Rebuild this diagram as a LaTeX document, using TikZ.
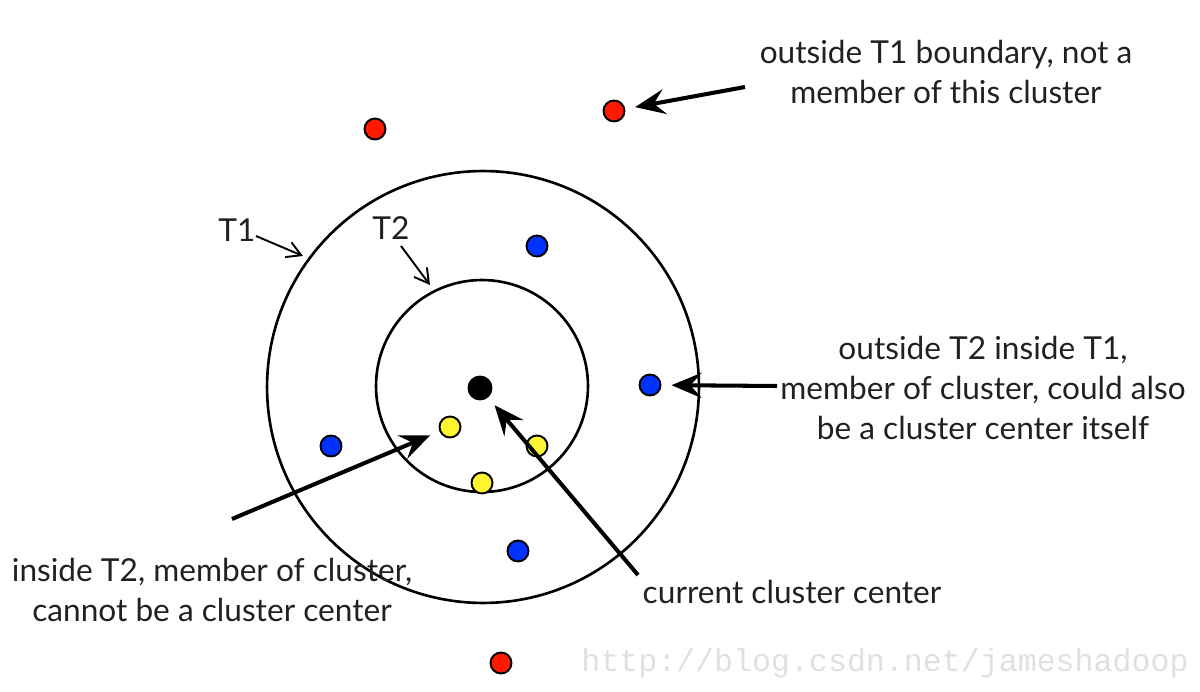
\documentclass[tikz,border=0pt]{standalone}
\usepackage{fontspec}
\setmainfont{Lato}
\newfontfamily\wmfont{Liberation Mono}
\usetikzlibrary{arrows.meta,positioning}

\begin{document}
\begin{tikzpicture}[x=0.02cm,y=-0.02cm,
  dot/.style={circle,draw=black,line width=1.1pt,minimum size=0.42cm,inner sep=0pt},
  ring/.style={circle,draw=black,line width=1.5pt,inner sep=0pt},
  bigarrow/.style={line width=2.3pt,-{Stealth[length=0.6cm,width=0.5cm,inset=0.22cm]}},
  thinarrow/.style={line width=1.1pt,-{Straight Barb[length=0.28cm,width=0.32cm]}},
  lbl/.style={font=\fontsize{18}{22.5}\selectfont,align=center,text=black!87,inner sep=0pt}]
\useasboundingbox (0,0) rectangle (1200,692);

\node[ring,minimum size=8.64cm] (T1) at (483,387) {};
\node[ring,minimum size=4.24cm] (T2) at (482,386) {};

\node[dot,fill=black,minimum size=0.46cm] (c) at (480,388) {};
\node[dot,fill=yellow!80!white] (y1) at (450,427) {};
\node[dot,fill=yellow!80!white] (y2) at (537,446) {};
\node[dot,fill=yellow!80!white] (y3) at (482,483) {};
\node[dot,fill=blue!80!cyan] (b1) at (537,246) {};
\node[dot,fill=blue!80!cyan] (b2) at (650,385) {};
\node[dot,fill=blue!80!cyan] (b3) at (331,446) {};
\node[dot,fill=blue!80!cyan] (b4) at (518,551) {};
\node[dot,fill=red!80!orange] (r1) at (375,129) {};
\node[dot,fill=red!80!orange] (r2) at (614,111) {};
\node[dot,fill=red!80!orange] (r3) at (501,663) {};

\node[lbl] (outT1) at (946,72) {outside T1 boundary, not a\\member of this cluster};
\node[lbl] (T1lbl) at (237,230) {T1};
\node[lbl] (T2lbl) at (391,228) {T2};
\node[lbl] (between) at (983,388) {outside T2 inside T1,\\member of cluster, could also\\be a cluster center itself};
\node[lbl] (inT2) at (212,590) {inside T2, member of cluster,\\cannot be a cluster center};
\node[lbl] (current) at (792,592) {current cluster center};
\node[font=\wmfont\fontsize{18}{22}\selectfont,text=black!12,inner sep=0pt] (wm) at (885,663) {http://blog.csdn.net/jameshadoop};

\coordinate (ra) at (745,87);
\coordinate (ba) at (777,386);
\coordinate (ca) at (638,575);
\coordinate (ya) at (232,519);
\coordinate (t1a) at (256,236);
\coordinate (t1b) at (303,256);
\coordinate (t2a) at (401,246);
\coordinate (t2b) at (430,285);

\draw[bigarrow,shorten >=0.2cm] (ra) -- (r2);
\draw[bigarrow,shorten >=0.2cm] (ba) -- (b2);
\draw[bigarrow,shorten >=0.2cm] (ca) -- (c);
\draw[bigarrow,shorten >=0.2cm] (ya) -- (y1);
\draw[thinarrow] (t1a) -- (t1b);
\draw[thinarrow] (t2a) -- (t2b);

\end{tikzpicture}
\end{document}
